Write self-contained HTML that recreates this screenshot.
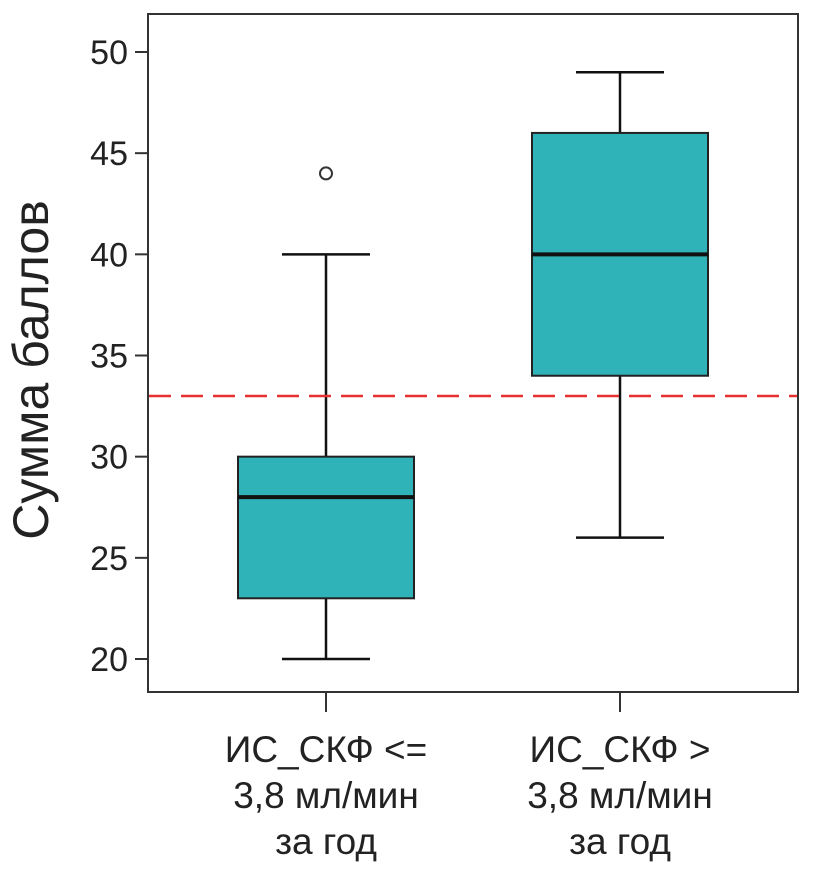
<!DOCTYPE html>
<html><head><meta charset="utf-8"><style>
html,body{margin:0;padding:0;background:#fff}
svg{display:block}
text{font-family:"Liberation Sans",Arial,sans-serif;fill:#222}
</style></head><body>
<svg width="827" height="894" xmlns="http://www.w3.org/2000/svg">
<rect x="148" y="14" width="650" height="678" fill="none" stroke="#333" stroke-width="2"/>
<text transform="translate(48,370) rotate(-90)" text-anchor="middle" font-size="50">Сумма баллов</text>
<g id="yaxis"></g>
<g id="xaxis"></g>
<g id="marks"></g>
</svg>
<script>
const yTicks=[20,25,30,35,40,45,50];
const categories=[["ИС_СКФ <=","3,8 мл/мин","за год"],["ИС_СКФ >","3,8 мл/мин","за год"]];
const whiskLow=[20,26];
const q1=[23,34];
const median=[28,40];
const q3=[30,46];
const whiskHigh=[40,49];
const outliers=[[44],[]];
const refLine=[33];
const NS="http://www.w3.org/2000/svg";
const y=v=>659-(v-20)*(607/30);
const xc=i=>326+i*294;
function mk(t,a,p){const e=document.createElementNS(NS,t);for(const k in a)e.setAttribute(k,a[k]);p.appendChild(e);return e;}
const ya=document.getElementById('yaxis'),xa=document.getElementById('xaxis'),m=document.getElementById('marks');
yTicks.forEach(v=>{
 const l=mk('line',{x1:135,x2:148,y1:y(v),y2:y(v),stroke:'#333','stroke-width':2},ya);
 
 
 const t=mk('text',{x:128,y:y(v)+12,'text-anchor':'end','font-size':34},ya);t.textContent=v;
 
 
});
categories.forEach((c,i)=>{
 const l=mk('line',{x1:xc(i),x2:xc(i),y1:692,y2:712,stroke:'#333','stroke-width':2},xa);
 
 
 c.forEach((s,j)=>{const t=mk('text',{x:xc(i),y:762+j*46,'text-anchor':'middle','font-size':37},xa);t.textContent=s;
 
 });
});
categories.forEach((c,i)=>{
 const x=xc(i),hw=88;
 const g=mk('g',{},m);
 
 
 mk('line',{x1:x,x2:x,y1:y(whiskLow[i]),y2:y(q1[i]),stroke:'#111','stroke-width':2.5},g);
 mk('line',{x1:x,x2:x,y1:y(q3[i]),y2:y(whiskHigh[i]),stroke:'#111','stroke-width':2.5},g);
 mk('line',{x1:x-44,x2:x+44,y1:y(whiskLow[i]),y2:y(whiskLow[i]),stroke:'#111','stroke-width':2.5},g);
 mk('line',{x1:x-44,x2:x+44,y1:y(whiskHigh[i]),y2:y(whiskHigh[i]),stroke:'#111','stroke-width':2.5},g);
 const b=mk('rect',{x:x-hw,y:y(q3[i]),width:hw*2,height:y(q1[i])-y(q3[i]),fill:'#2fb3b8',stroke:'#222','stroke-width':2},g);
 
 
 const md=mk('line',{x1:x-hw,x2:x+hw,y1:y(median[i]),y2:y(median[i]),stroke:'#111','stroke-width':4},g);
 
 
 outliers[i].forEach(o=>{const c2=mk('circle',{cx:x,cy:y(o),r:6,fill:'#fff',stroke:'#333','stroke-width':2},g);
 
 });
});
const rl=mk('line',{x1:149,x2:797,y1:y(refLine[0]),y2:y(refLine[0]),stroke:'#e8312f','stroke-width':2.5,'stroke-dasharray':'22 10'},m);


</script>
</body></html>
